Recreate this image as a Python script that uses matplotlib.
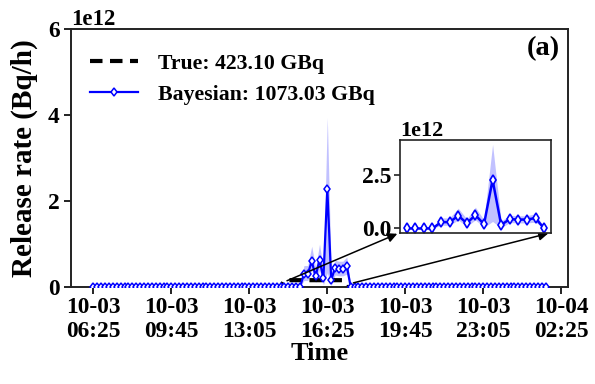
import numpy as np
import pandas as pd
import matplotlib
matplotlib.use("Agg")
import matplotlib.pyplot as plt
import matplotlib.dates as mdates

plt.rcParams['font.family'] = ['Liberation Serif', 'DejaVu Serif']
plt.rcParams['font.weight'] = 'bold'
plt.rcParams['axes.labelweight'] = 'bold'

# ---- data (values in units of 1e12 Bq/h, 10-minute steps) ----
start_time = '2023-10-03 06:25'
n_steps = 117
spike_start = 50
spike_mean = [0.0, 0.0, 0.0, 0.0, 0.30, 0.30, 0.60, 0.25, 0.63, 0.20, 2.28,
              0.17, 0.44, 0.42, 0.42, 0.49, 0.0]
spike_upper = [0.04, 0.04, 0.04, 0.04, 0.50, 0.50, 0.95, 0.45, 1.00, 0.40, 3.95,
               0.35, 0.62, 0.60, 0.60, 0.70, 0.04]
spike_lower = [0.0, 0.0, 0.0, 0.0, 0.15, 0.15, 0.40, 0.10, 0.40, 0.05, 0.33,
               0.03, 0.28, 0.26, 0.26, 0.30, 0.0]
bayes_mean = [0.0] * 50 + spike_mean + [0.0] * 50
bayes_upper = [0.04] * 50 + spike_upper + [0.04] * 50
bayes_lower = [0.0] * 50 + spike_lower + [0.0] * 50
true_rate = [0.0] * 49 + [0.159] * 16 + [0.0] * 52
tick_times = ['2023-10-03 06:25', '2023-10-03 09:45', '2023-10-03 13:05',
              '2023-10-03 16:25', '2023-10-03 19:45', '2023-10-03 23:05',
              '2023-10-04 02:25']
true_label = 'True: 423.10 GBq'
bayes_label = 'Bayesian: 1073.03 GBq'
scale = 1e12

times = pd.date_range(start_time, periods=n_steps, freq='10min')
m = np.array(bayes_mean) * scale
up = np.array(bayes_upper) * scale
lo = np.array(bayes_lower) * scale
tr = np.array(true_rate) * scale

fig = plt.figure(figsize=(5.95, 3.84), dpi=100)
ax = fig.add_axes([0.119, 0.2526, 0.836, 0.671])

ax.plot(times, tr, color='black', ls='--', lw=3, dashes=(3, 1.8), zorder=2, label=true_label)
ax.fill_between(times, lo, up, color='#3333ff', alpha=0.3, lw=0, zorder=1)
ax.plot(times, m, color='#0000ff', lw=1.6, marker='d', ms=4.5, mfc='white',
        mec='#0000ff', mew=1.1, zorder=3, label=bayes_label)

ax.set_ylim(0, 6e12)
ax.set_yticks([0, 2e12, 4e12, 6e12])
ax.set_xticks(pd.to_datetime(tick_times))
ax.xaxis.set_major_formatter(mdates.DateFormatter('%m-%d\n%H:%M'))
ax.tick_params(axis='both', labelsize=16.8, width=1.4, length=5, color='#222222', pad=3)
ax.tick_params(axis='x', pad=2)
for s in ax.spines.values():
    s.set_linewidth(1.4)
    s.set_color('#222222')
ax.yaxis.get_offset_text().set_fontsize(16.5)
ax.yaxis.get_offset_text().set_fontweight('bold')
for lab in ax.get_xticklabels() + ax.get_yticklabels():
    lab.set_fontweight('bold')
ax.set_xlabel('Time', fontsize=19, fontweight='bold', labelpad=0)
ax.set_ylabel('Release rate (Bq/h)', fontsize=21, fontweight='bold', labelpad=7)

leg = ax.legend(loc='upper left', frameon=False, prop={'size': 15.7, 'weight': 'bold'},
                handlelength=2.2, handletextpad=0.9, labelspacing=0.5,
                borderaxespad=0.5, bbox_to_anchor=(0, 0.982))
ax.text(0.983, 0.925, '(a)', transform=ax.transAxes, ha='right', va='center',
        fontsize=20.5, fontweight='bold')

# ---- inset ----
axins = fig.add_axes([0.672, 0.394, 0.254, 0.241])
sl = slice(spike_start, spike_start + len(spike_mean))
axins.fill_between(times[sl], lo[sl], up[sl], color='#3333ff', alpha=0.3, lw=0)
axins.plot(times[sl], m[sl], color='#0000ff', lw=1.8, marker='d', ms=4.8, mfc='white',
           mec='#0000ff', mew=1.2)
axins.set_xticks([])
axins.set_yticks([0, 2.5e12])
axins.tick_params(axis='y', labelsize=17, width=1.2, length=4, color='#222222', pad=2)
for lab in axins.get_yticklabels():
    lab.set_fontweight('bold')
for s in axins.spines.values():
    s.set_linewidth(1.2)
    s.set_color('#222222')
axins.yaxis.get_offset_text().set_fontsize(16)
axins.yaxis.get_offset_text().set_fontweight('bold')

# connectors
ax.annotate('', xy=(0, 0), xycoords=axins.transAxes,
            xytext=(times[spike_start - 1], 0.12e12), textcoords='data',
            arrowprops=dict(arrowstyle='-|>', color='black', lw=1.1, mutation_scale=14),
            annotation_clip=False)
ax.annotate('', xy=(1, 0), xycoords=axins.transAxes,
            xytext=(times[spike_start + len(spike_mean) - 1], 0.08e12), textcoords='data',
            arrowprops=dict(arrowstyle='-|>', color='black', lw=1.1, mutation_scale=14),
            annotation_clip=False)

fig.savefig('out.png', dpi=100)
